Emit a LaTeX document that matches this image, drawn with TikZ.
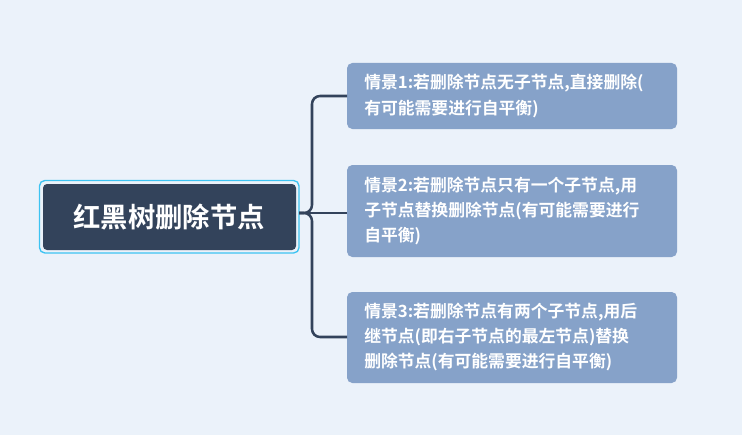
\documentclass[tikz,border=0pt]{standalone}
\usepackage{fontspec}
\newfontfamily\cjk{Noto Sans CJK SC}[BoldFont={Noto Sans CJK SC Bold}]
\definecolor{bg}{HTML}{EBF2FA}
\definecolor{rootc}{HTML}{33435B}
\definecolor{subc}{HTML}{86A2C9}
\definecolor{selc}{HTML}{3DC3F2}
\begin{document}
\begin{tikzpicture}[x=0.75pt,y=-0.75pt,
  sub/.style={text=white,font=\cjk\bfseries\fontsize{12.6}{19}\selectfont,align=left,anchor=west,inner xsep=0pt,inner ysep=0pt},
  conn/.style={draw=rootc,line width=1.9pt,rounded corners=6pt}]
\fill[bg] (0,0) rectangle (742,435);
\useasboundingbox (0,0) rectangle (742,435);
\draw[selc,line width=1pt,rounded corners=4pt] (39.5,180.5) rectangle (299,253);
\fill[rootc,rounded corners=3pt] (43,184) rectangle (296,250);
\node[text=white,font=\cjk\bfseries\fontsize{20.5}{24}\selectfont] (rt) at (169,217) {红黑树删除节点};
\fill[subc,rounded corners=4pt] (347,63) rectangle (677,129);
\node[sub] (b1) at (364,96) {情景1:若删除节点无子节点,直接删除(\\有可能需要进行自平衡)};
\fill[subc,rounded corners=4pt] (347,165) rectangle (677,257);
\node[sub] (b2) at (364,211) {情景2:若删除节点只有一个子节点,用\\子节点替换删除节点(有可能需要进行\\自平衡)};
\fill[subc,rounded corners=4pt] (347,292) rectangle (677,383);
\node[sub] (b3) at (364,337) {情景3:若删除节点有两个子节点,用后\\继节点(即右子节点的最左节点)替换\\删除节点(有可能需要进行自平衡)};
\coordinate (s) at (299,213);
\draw[conn] (s) -- (312,213) |- (347,96);
\draw[conn] (s) -- (312,213) |- (347,337);
\draw[conn] (s) -- (347,213);
\end{tikzpicture}
\end{document}
